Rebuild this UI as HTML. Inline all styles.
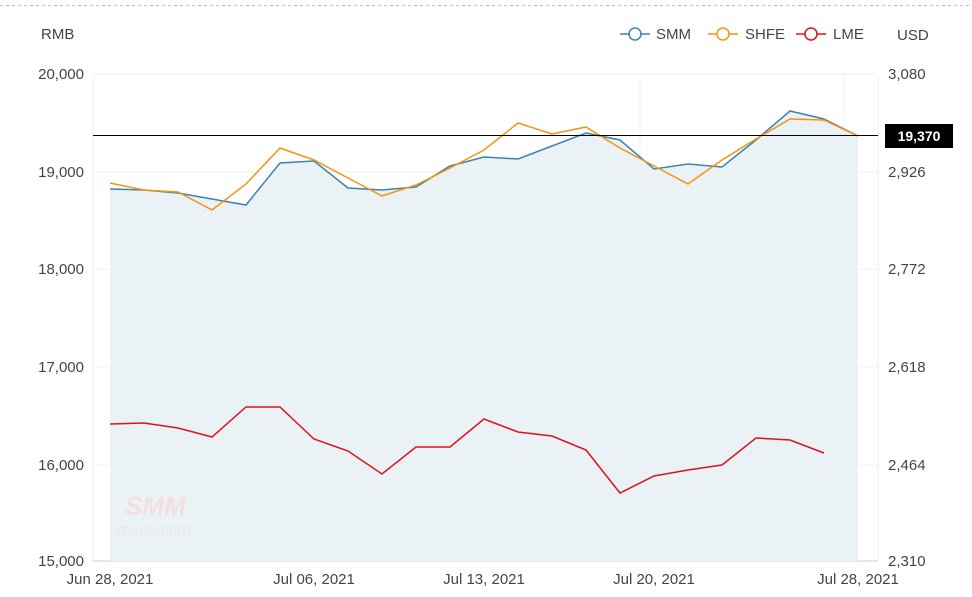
<!DOCTYPE html><html><head><style>body{margin:0;background:#fff}svg{display:block;font-family:"Liberation Sans",sans-serif}</style></head><body>
<svg width="972" height="597" viewBox="0 0 972 597">
<line x1="0" y1="5.5" x2="972" y2="5.5" stroke="#bbb" stroke-dasharray="3,3"/>
<g stroke="#f0f0f0"><line x1="93" y1="74" x2="878" y2="74"/><line x1="93" y1="172" x2="878" y2="172"/><line x1="93" y1="269" x2="878" y2="269"/><line x1="93" y1="367" x2="878" y2="367"/><line x1="93" y1="465" x2="878" y2="465"/><line x1="93" y1="74" x2="93" y2="561"/><line x1="878" y1="74" x2="878" y2="561"/><line x1="640" y1="74" x2="640" y2="561"/><line x1="844" y1="74" x2="844" y2="561"/></g>
<line x1="93" y1="561" x2="878" y2="561" stroke="#ccc"/>
<polygon fill="#eaf2f5" points="110,561 110,189 144,190 178,193 212,199 246,205 280,163 314,161 348,188 382,190 416,187 450,166 484,157 518,159 552,146 586,133 620,140 654,169 688,164 722,167 756,140 790,111 824,119 858,136 858,561"/>
<polyline fill="none" stroke="#3a84b0" stroke-width="1.5" points="110,189 144,190 178,193 212,199 246,205 280,163 314,161 348,188 382,190 416,187 450,166 484,157 518,159 552,146 586,133 620,140 654,169 688,164 722,167 756,140 790,111 824,119 858,136"/>
<polyline fill="none" stroke="#f7920f" stroke-width="1.5" points="110,183 144,190 178,192 212,210 246,184 280,148 314,160 348,178 382,196 416,185 450,168 484,150 518,123 552,134 586,127 620,148 654,166 688,184 722,160 756,139 790,119 824,120 858,136"/>
<polyline fill="none" stroke="#e0101e" stroke-width="1.5" points="110,424 144,423 178,428 212,437 246,407 280,407 314,439 348,451 382,474 416,447 450,447 484,419 518,432 552,436 586,450 620,493 654,476 688,470 722,465 756,438 790,440 824,453"/>
<line x1="93" y1="135.5" x2="878" y2="135.5" stroke="#000" stroke-width="1"/>
<rect x="885" y="124" width="68" height="24" fill="#000"/><text x="919" y="141" fill="#fff" font-size="14" font-weight="bold" text-anchor="middle">19,370</text>
<text x="125" y="515" font-size="26" font-weight="bold" fill="#f4dede" font-style="italic">SMM</text><text x="117" y="535" font-size="16" fill="#f0e6e6">metal.com</text>
<g font-size="15" fill="#444"><text x="41" y="39">RMB</text><text x="897" y="40">USD</text>
<g text-anchor="end"><text x="84" y="79">20,000</text><text x="84" y="177">19,000</text><text x="84" y="274">18,000</text><text x="84" y="372">17,000</text><text x="84" y="470">16,000</text><text x="84" y="566">15,000</text></g>
<g><text x="888" y="79">3,080</text><text x="888" y="177">2,926</text><text x="888" y="274">2,772</text><text x="888" y="372">2,618</text><text x="888" y="470">2,464</text><text x="888" y="566">2,310</text></g>
<g text-anchor="middle"><text x="110" y="584">Jun 28, 2021</text><text x="314" y="584">Jul 06, 2021</text><text x="484" y="584">Jul 13, 2021</text><text x="654" y="584">Jul 20, 2021</text><text x="858" y="584">Jul 28, 2021</text></g>
<text x="656" y="39">SMM</text><text x="745" y="39">SHFE</text><text x="833" y="39">LME</text></g>
<g fill="#fff" stroke-width="1.5"><line x1="620" y1="34" x2="650" y2="34" stroke="#3a84b0"/><circle cx="635" cy="34" r="6" stroke="#3a84b0"/>
<line x1="708" y1="34" x2="738" y2="34" stroke="#f7920f"/><circle cx="723" cy="34" r="6" stroke="#f7920f"/>
<line x1="796" y1="34" x2="826" y2="34" stroke="#e0101e"/><circle cx="811" cy="34" r="6" stroke="#e0101e"/></g>
</svg></body></html>
